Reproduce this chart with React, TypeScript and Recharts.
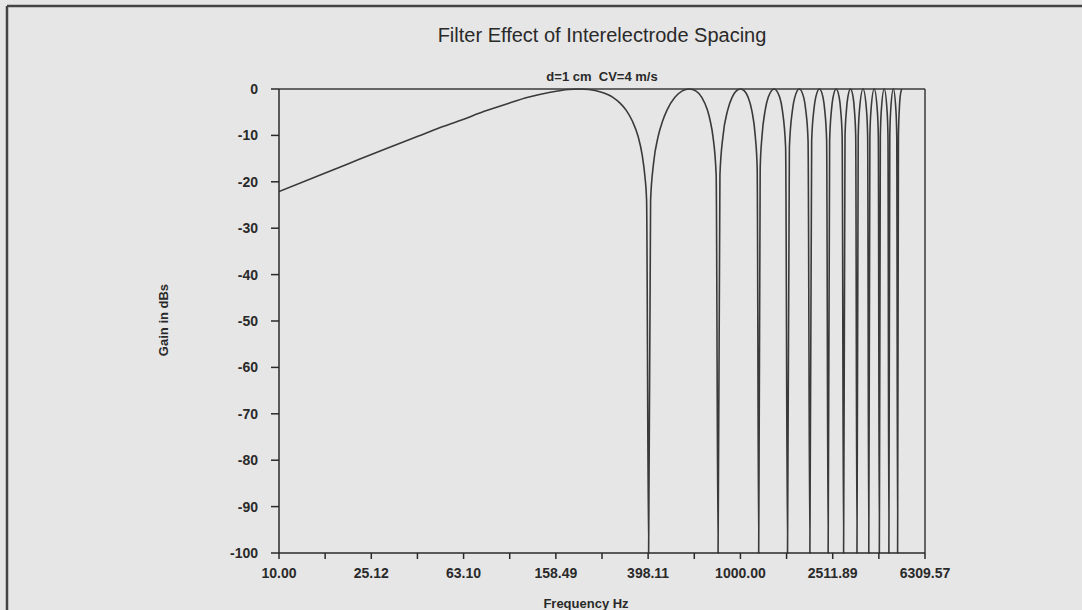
import React from 'react';
import {
  LineChart,
  Line,
  XAxis,
  YAxis,
  ReferenceLine
} from 'recharts';

// [frequency Hz, gain dB], one array per lobe (each lobe ends in its null)
const lobe1: [number, number][] = [
  [10, -22.1], [15, -18.6], [20, -16.1], [30, -12.6], [40, -10.2], [50, -8.3],
  [60, -6.9], [80, -4.6], [100, -3.0], [120, -1.8], [150, -0.7], [180, -0.1],
  [200, 0], [220, -0.1], [250, -0.7], [280, -1.8], [300, -3.0], [320, -4.6],
  [340, -6.9], [360, -10.2], [375, -14.2], [385, -18.6], [392, -24.0], [400, -100]
];
const lobe2: [number, number][] = [
  [408, -24.0], [420, -16.1], [440, -10.2], [460, -6.9], [480, -4.6], [520, -1.8],
  [560, -0.4], [600, 0], [640, -0.4], [680, -1.8], [720, -4.6], [740, -6.9],
  [760, -10.2], [785, -18.6], [800, -100]
];
const lobe3: [number, number][] = [
  [815, -18.6], [840, -10.2], [880, -4.6], [920, -1.8], [960, -0.4], [1000, 0],
  [1040, -0.4], [1080, -1.8], [1120, -4.6], [1160, -10.2], [1182, -17.0], [1200, -100]
];
const lobe4: [number, number][] = [
  [1218, -17.0], [1240, -10.2], [1280, -4.6], [1320, -1.8], [1400, 0],
  [1480, -1.8], [1520, -4.6], [1570, -12.6], [1600, -100]
];
const lobe5: [number, number][] = [
  [1630, -12.6], [1680, -4.6], [1720, -1.8], [1800, 0], [1880, -1.8],
  [1920, -4.6], [1964, -11.1], [2000, -100]
];
const lobe6: [number, number][] = [
  [2036, -11.1], [2080, -4.6], [2120, -1.8], [2200, 0], [2280, -1.8],
  [2320, -4.6], [2364, -11.1], [2400, -100]
];
const lobe7: [number, number][] = [
  [2436, -11.1], [2480, -4.6], [2520, -1.8], [2600, 0], [2680, -1.8],
  [2720, -4.6], [2760, -10.2], [2800, -100]
];
const lobe8: [number, number][] = [
  [2840, -10.2], [2880, -4.6], [2920, -1.8], [3000, 0], [3080, -1.8],
  [3120, -4.6], [3160, -10.2], [3200, -100]
];
const lobe9: [number, number][] = [
  [3240, -10.2], [3280, -4.6], [3400, 0], [3520, -4.6], [3560, -10.2], [3600, -100]
];
const lobe10: [number, number][] = [
  [3640, -10.2], [3680, -4.6], [3800, 0], [3920, -4.6], [3960, -10.2], [4000, -100]
];
const lobe11: [number, number][] = [
  [4040, -10.2], [4080, -4.6], [4200, 0], [4320, -4.6], [4360, -10.2], [4400, -100]
];
const lobe12: [number, number][] = [
  [4440, -10.2], [4480, -4.6], [4600, 0], [4720, -4.6], [4760, -10.2], [4800, -100]
];
const lobe13: [number, number][] = [
  [4840, -10.2], [4880, -4.6], [4920, -1.8], [5000, 0]
];

const lobes = [lobe1, lobe2, lobe3, lobe4, lobe5, lobe6, lobe7, lobe8, lobe9, lobe10, lobe11, lobe12, lobe13];

const xMajorTicks = [10, 25.12, 63.1, 158.49, 398.11, 1000, 2511.89, 6309.57];
const xMinorTicks = [15.85, 39.81, 100, 251.19, 630.96, 1584.89, 3981.07];
const yTicks = [0, -10, -20, -30, -40, -50, -60, -70, -80, -90, -100];

const data = lobes.flat().map(([hz, db]) => ({ hz, db }));
const xTicks = [...xMajorTicks, ...xMinorTicks].sort((a, b) => a - b);

const FONT = '"Liberation Sans", Arial, Helvetica, sans-serif';
const INK = '#2a2a2a';

const XTick = (props: any) => {
  const { x, y, payload } = props;
  const isMajor = xMajorTicks.includes(payload.value);
  if (!isMajor) return null;
  return (
    <text x={x} y={y} dy="0.71em" textAnchor="middle" fill={INK}
      fontFamily={FONT} fontSize={14} fontWeight="bold">
      {payload.value.toFixed(2)}
    </text>
  );
};

export default function App() {
  return (
    <div style={{ position: 'fixed', left: 0, top: 0, width: 1082, height: 610, background: '#e6e6e6', overflow: 'hidden' }}>
      <LineChart
        width={1082}
        height={610}
        data={data}
        margin={{ top: 89, right: 157, left: 219, bottom: 27 }}
      >
        <XAxis
          type="number"
          dataKey="hz"
          scale="log"
          domain={[10, 6309.57]}
          allowDataOverflow
          ticks={xTicks}
          interval={0}
          tick={<XTick />}
          tickSize={6}
          tickMargin={9}
          height={30}
          stroke={INK}
          strokeWidth={1.5}
        />
        <YAxis
          type="number"
          domain={[-100, 0]}
          ticks={yTicks}
          interval={0}
          tickSize={8}
          tickMargin={13}
          width={60}
          stroke={INK}
          strokeWidth={1.5}
          tick={{ fill: INK, fontSize: 14, fontWeight: 'bold', fontFamily: FONT }}
        />
        <ReferenceLine y={0} stroke="#3a3a3a" strokeWidth={1.5} />
        <ReferenceLine x={6309.57} stroke="#3a3a3a" strokeWidth={1.5} />
        <Line
          type="monotone"
          dataKey="db"
          stroke="#3a3a3a"
          strokeWidth={1.6}
          dot={false}
          isAnimationActive={false}
        />
      </LineChart>
      <svg width={1082} height={610} style={{ position: 'absolute', left: 0, top: 0, pointerEvents: 'none' }}>
        <line x1={7} y1={6} x2={1082} y2={6} stroke="#444" strokeWidth={2.5} />
        <line x1={7} y1={6} x2={7} y2={610} stroke="#444" strokeWidth={2.5} />
        <text x={602} y={35} textAnchor="middle" dominantBaseline="central" fill={INK}
          fontFamily={FONT} fontSize={20}>
          Filter Effect of Interelectrode Spacing
        </text>
        <text x={602} y={76} textAnchor="middle" dominantBaseline="central" fill={INK}
          fontFamily={FONT} fontSize={13} fontWeight="bold" style={{ whiteSpace: 'pre' }}>
          {'d=1 cm\u00A0\u00A0CV=4 m/s'}
        </text>
        <text x={163} y={320} textAnchor="middle" dominantBaseline="central" fill={INK}
          fontFamily={FONT} fontSize={13} fontWeight="bold" transform="rotate(-90 163 320)">
          Gain in dBs
        </text>
        <text x={586} y={603} textAnchor="middle" dominantBaseline="central" fill={INK}
          fontFamily={FONT} fontSize={13} fontWeight="bold">
          Frequency Hz
        </text>
      </svg>
    </div>
  );
}
